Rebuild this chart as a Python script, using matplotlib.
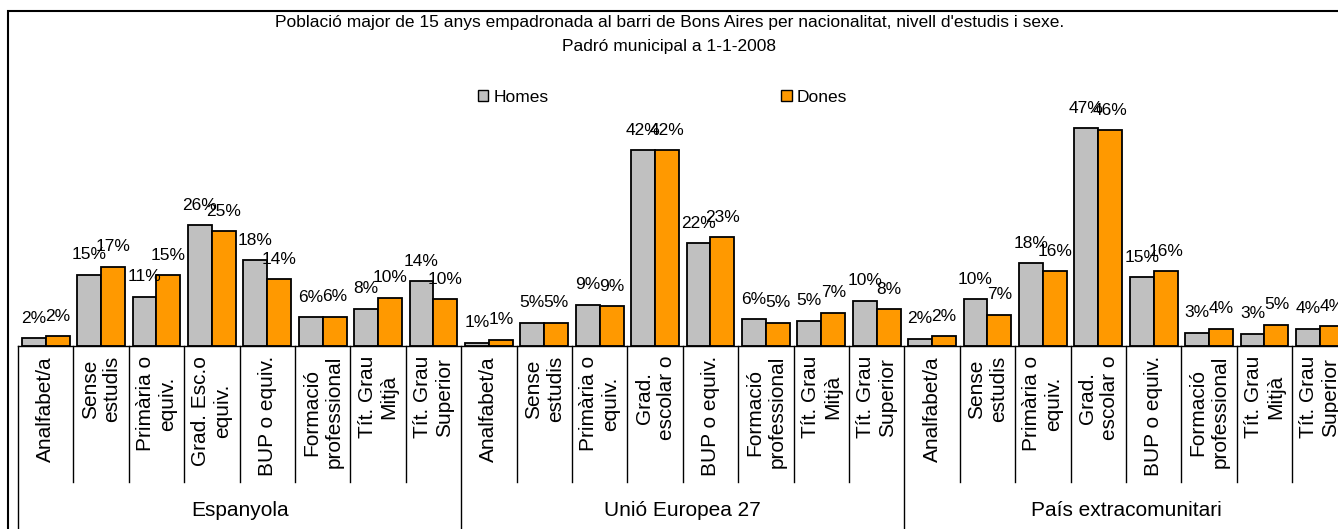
import numpy as np
import matplotlib
matplotlib.use('Agg')
import matplotlib.pyplot as plt
from matplotlib.patches import Rectangle, Patch

plt.rcParams['font.family'] = ['Liberation Sans', 'DejaVu Sans']

# categories
groups = ['Espanyola', 'Unió Europea 27', 'País extracomunitari']
levels_esp = ['Analfabet/a', 'Sense\nestudis', 'Primària o\nequiv.', 'Grad. Esc.o\nequiv.',
              'BUP o equiv.', 'Formació\nprofessional', 'Tít. Grau\nMitjà', 'Tít. Grau\nSuperior']
levels_other = ['Analfabet/a', 'Sense\nestudis', 'Primària o\nequiv.', 'Grad.\nescolar o',
                'BUP o equiv.', 'Formació\nprofessional', 'Tít. Grau\nMitjà', 'Tít. Grau\nSuperior']
levels = levels_esp + levels_other + levels_other

# % values (Homes / Dones) per group
homes_esp = [1.7, 15.3, 10.6, 26.0, 18.4, 6.2, 8.0, 13.9]
dones_esp = [2.1, 17.0, 15.2, 24.7, 14.4, 6.3, 10.4, 10.1]
homes_ue = [0.7, 5.0, 8.9, 42.1, 22.1, 5.8, 5.4, 9.7]
dones_ue = [1.3, 5.0, 8.6, 42.1, 23.4, 5.0, 7.2, 7.9]
homes_ext = [1.6, 10.1, 17.8, 46.8, 14.8, 2.9, 2.6, 3.7]
dones_ext = [2.1, 6.7, 16.1, 46.4, 16.1, 3.7, 4.6, 4.2]

homes = homes_esp + homes_ue + homes_ext
dones = dones_esp + dones_ue + dones_ext

title = ("Població major de 15 anys empadronada al barri de Bons Aires per nacionalitat, "
         "nivell d'estudis i sexe.\nPadró municipal a 1-1-2008")

grey = '#c0c0c0'
orange = '#ff9900'

W, H = 1338, 529
base_px, top_px = 346, 100
px_per_pct = 4.65

fig = plt.figure(figsize=(W / 100, H / 100), dpi=100)
ax = fig.add_axes([18 / W, (H - base_px) / H, 24 * 55.4 / W, (base_px - top_px) / H])

n = len(levels)
x = np.arange(n) + 0.5
w = 0.433
ax.bar(x - w / 2, homes, w, color=grey, edgecolor='black', linewidth=1.3, label='Homes')
ax.bar(x + w / 2, dones, w, color=orange, edgecolor='black', linewidth=1.3, label='Dones')

ax.set_xlim(0, n)
ax.set_ylim(0, (base_px - top_px) / px_per_pct)
for s in ['top', 'left', 'right']:
    ax.spines[s].set_visible(False)
ax.spines['bottom'].set_linewidth(1)
ax.set_xticks([])
ax.set_yticks([])

# data labels
for xi, v in zip(x - w / 2, homes):
    ax.annotate(f'{v:.0f}%', (xi, v), xytext=(0, 14.4), textcoords='offset points',
                ha='center', va='center', fontsize=12.5)
for xi, v in zip(x + w / 2, dones):
    ax.annotate(f'{v:.0f}%', (xi, v), xytext=(0, 14.4), textcoords='offset points',
                ha='center', va='center', fontsize=12.5)


def fy(ypx):
    # pixel row -> axes fraction
    return (base_px - ypx) / (base_px - top_px)


trans = ax.get_xaxis_transform()

# category labels and dividers
for i, lab in enumerate(levels):
    ax.text(x[i], fy(356), lab, rotation=90, ha='center', va='top',
            multialignment='center', fontsize=15, transform=trans, clip_on=False)
for i in range(n + 1):
    bottom = fy(540) if i % 8 == 0 else fy(482)
    ax.plot([i, i], [0, bottom], color='black', lw=1, transform=trans, clip_on=False)

# group labels
for g, name in enumerate(groups):
    ax.text(g * 8 + 4, fy(510), name, ha='center', va='center', fontsize=15,
            transform=trans, clip_on=False)

# title and legend
fig.text(0.5 * (262 + 1077) / W, 1 - 34 / H, title, ha='center', va='center',
         fontsize=12.5, linespacing=1.75)
handles = [Patch(facecolor=grey, edgecolor='black', label='Homes'),
           Patch(facecolor=orange, edgecolor='black', label='Dones')]
fig.legend(handles=handles, loc='center left', bbox_to_anchor=(478 / W, 1 - 97 / H),
           ncol=2, frameon=False, fontsize=12.5, handlelength=0.6, handleheight=0.6,
           handletextpad=0.3, columnspacing=13.4, borderpad=0, borderaxespad=0)

# chart border (right and bottom edges fall outside the image)
fig.patches.append(Rectangle((8 / W, -0.1), 1.2, 1.1 - 11 / H, transform=fig.transFigure,
                             fill=False, edgecolor='black', lw=1.5))

fig.savefig('out.png', dpi=100)
